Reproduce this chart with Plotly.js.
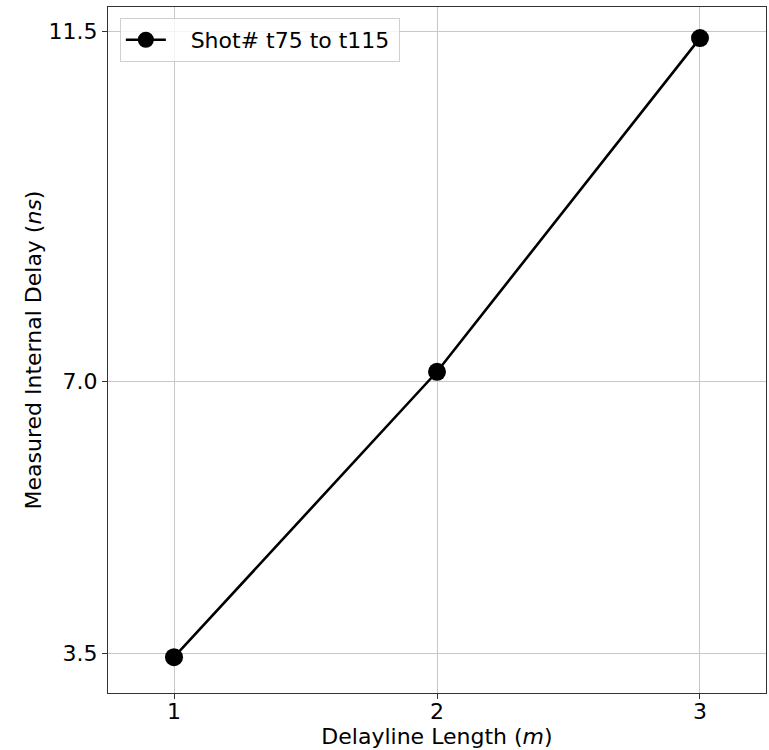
<!DOCTYPE html>
<html>
<head>
<meta charset="utf-8">
<script src="https://cdn.plot.ly/plotly-3.0.1.min.js"></script>
<style>html,body{margin:0;padding:0;background:#fff;}#chart{width:769px;height:750px;}</style>
</head>
<body>
<div id="chart"></div>
<script>
const delaylineLength = [1, 2, 3];
const measuredDelay = [3.45, 7.12, 11.41];
const yTickVals = [3.5, 7.0, 11.5];
const yTickText = ['3.5', '7.0', '11.5'];
const xTickVals = [1, 2, 3];
const seriesName = 'Shot# t75 to t115';

const font = {family: 'DejaVu Sans, sans-serif', size: 22, color: '#000'};

Plotly.newPlot('chart', [{
  x: delaylineLength,
  y: measuredDelay,
  mode: 'lines+markers',
  name: '\u2002\u2009\u2009' + seriesName + '\u2009',
  line: {color: '#000', width: 2.6},
  marker: {color: '#000', size: 18}
}], {
  width: 769, height: 750,
  margin: {l: 108, r: 3, t: 7, b: 57},
  paper_bgcolor: '#fff', plot_bgcolor: '#fff',
  font: font,
  showlegend: true,
  legend: {x: 0.018, y: 0.984, xanchor: 'left', yanchor: 'top',
    bgcolor: 'rgba(255,255,255,0.8)', bordercolor: '#d0d0d0', borderwidth: 1,
    font: font, itemwidth: 40},
  xaxis: {
    range: [0.749, 3.251], tickvals: xTickVals, ticktext: xTickVals.map(String),
    showgrid: true, gridcolor: '#c8c8c8', gridwidth: 1, zeroline: false,
    showline: true, linecolor: '#333', linewidth: 1, mirror: true,
    ticks: 'outside', ticklen: 5, tickcolor: '#333', ticklabelstandoff: -6,
    tickfont: font,
    title: {text: 'Delayline Length (<i>m</i>)', font: font, standoff: 2}
  },
  yaxis: {
    range: [2.99, 11.81], tickvals: yTickVals, ticktext: yTickText,
    showgrid: true, gridcolor: '#c8c8c8', gridwidth: 1, zeroline: false,
    showline: true, linecolor: '#333', linewidth: 1, mirror: true,
    ticks: 'outside', ticklen: 5, tickcolor: '#333',
    tickfont: font,
    title: {text: 'Measured Internal Delay (<i>ns</i>)', font: font, standoff: 0}
  }
}, {displayModeBar: false, staticPlot: true});
</script>
</body>
</html>
